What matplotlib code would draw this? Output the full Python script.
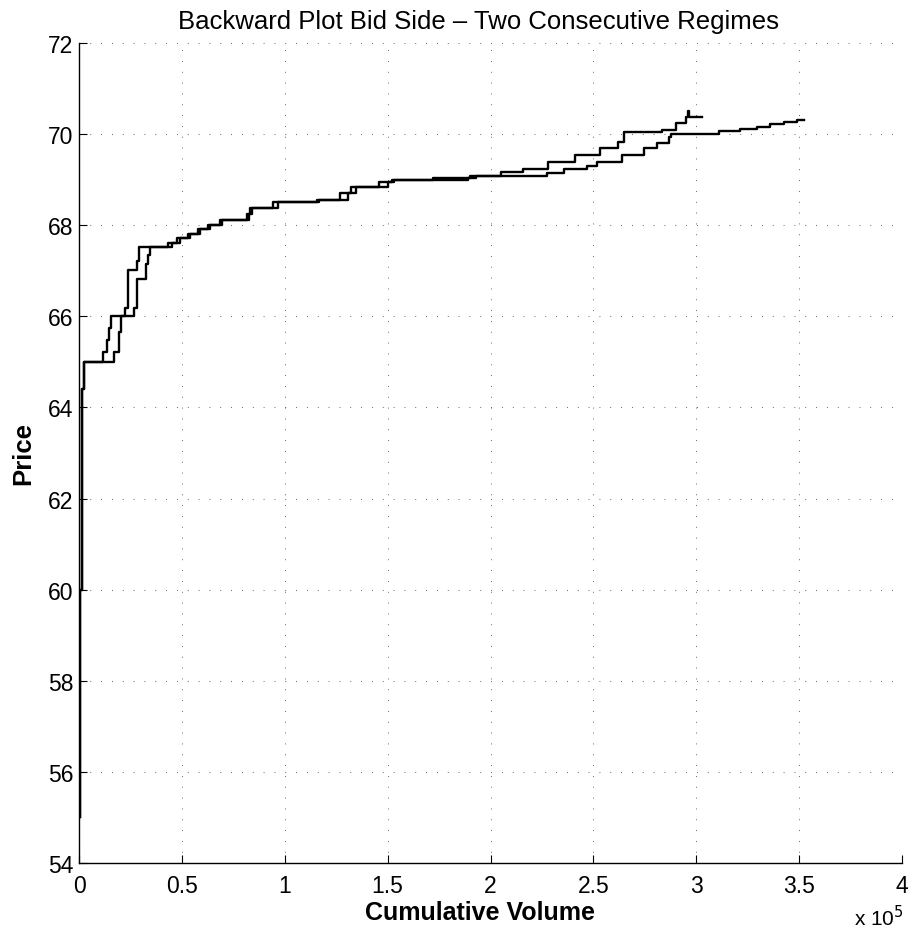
import matplotlib
matplotlib.use("Agg")
import matplotlib.pyplot as plt
from matplotlib.ticker import FuncFormatter

plt.rcParams['font.family'] = ['Liberation Sans', 'DejaVu Sans']

# Regime 1 (upper / left curve): cumulative volume at start of each price level, price level
vol_a = [500, 500, 1300, 2500, 11700, 13800, 14600, 15700, 22600, 23600, 28400, 29200,
         43300, 47500, 53000, 58000, 62700, 68600, 81600, 83000, 94400, 115600, 127000,
         132000, 146000, 152000, 172000, 190000, 205000, 216000, 228000, 241000, 253000,
         262000, 265000, 283500, 290000, 295000, 295800, 296500, 303000]
price_a = [55.0, 60.0, 64.4, 65.0, 65.22, 65.49, 65.75, 66.0, 66.19, 67.02, 67.22, 67.53,
           67.62, 67.72, 67.81, 67.91, 68.0, 68.11, 68.25, 68.37, 68.5, 68.56, 68.7,
           68.83, 68.94, 69.0, 69.03, 69.09, 69.16, 69.23, 69.39, 69.54, 69.7,
           69.83, 70.04, 70.1, 70.25, 70.37, 70.5, 70.37, 70.37]

# Regime 2 (lower / right curve)
vol_b = [500, 500, 1300, 2500, 17000, 19300, 20300, 26500, 28000, 32500, 33500, 34400,
         45000, 49000, 54000, 59000, 63500, 69500, 82500, 84000, 96500, 116500, 130500,
         134500, 150000, 153000, 189000, 193000, 227500, 235500, 247000, 251800, 264000,
         274500, 281000, 286600, 287500, 311000, 321500, 329600, 336000, 342600, 349000,
         352300]
price_b = [55.0, 60.0, 64.4, 65.0, 65.22, 65.65, 66.0, 66.19, 66.82, 67.15, 67.35, 67.53,
           67.62, 67.72, 67.81, 67.91, 68.0, 68.11, 68.25, 68.37, 68.5, 68.56, 68.7,
           68.83, 68.94, 69.0, 69.03, 69.09, 69.14, 69.23, 69.29, 69.39, 69.54,
           69.7, 69.81, 69.93, 70.0, 70.07, 70.12, 70.16, 70.22, 70.26, 70.31,
           70.31]

x_ticks = [0, 50000, 100000, 150000, 200000, 250000, 300000, 350000, 400000]
y_ticks = [54, 56, 58, 60, 62, 64, 66, 68, 70, 72]

fig = plt.figure(figsize=(9.12, 9.29), dpi=100)
ax = fig.add_axes([79/912, 1 - 864/929, (902 - 79)/912, (864 - 44)/929])

ax.plot(vol_a, price_a, drawstyle='steps-post', color='black', lw=1.7)
ax.plot(vol_b, price_b, drawstyle='steps-post', color='black', lw=1.7)

ax.set_xlim(0, 400000)
ax.set_ylim(54, 72)
ax.set_xticks(x_ticks)
ax.set_yticks(y_ticks)
ax.xaxis.set_major_formatter(FuncFormatter(lambda v, p: f"{v/1e5:g}"))

ax.grid(True, color='#333333', lw=0.6, linestyle=(0, (1, 12)))
for s in ['top', 'right']:
    ax.spines[s].set_visible(False)
for s in ['left', 'bottom']:
    ax.spines[s].set_linewidth(1.0)

ax.tick_params(direction='in', length=6, width=0.8, labelsize=16.5)
ax.tick_params(axis='x', pad=8)
ax.tick_params(axis='y', pad=4)

title = ax.set_title('Backward Plot Bid Side \u2013 Two Consecutive Regimes', fontsize=18.5, pad=11)
title.set_x((478.5 - 79) / 823)
ax.set_xlabel('Cumulative Volume', fontsize=18, fontweight='bold', labelpad=2)
ax.xaxis.label.set_x((480 - 79) / 823)
ax.set_ylabel('Price', fontsize=18.5, fontweight='bold', labelpad=9)

fig.text(904/912, 1 - 918/929, r'x 10$^{5}$', fontsize=15, ha='right', va='center')

fig.savefig('out.png', dpi=100)
